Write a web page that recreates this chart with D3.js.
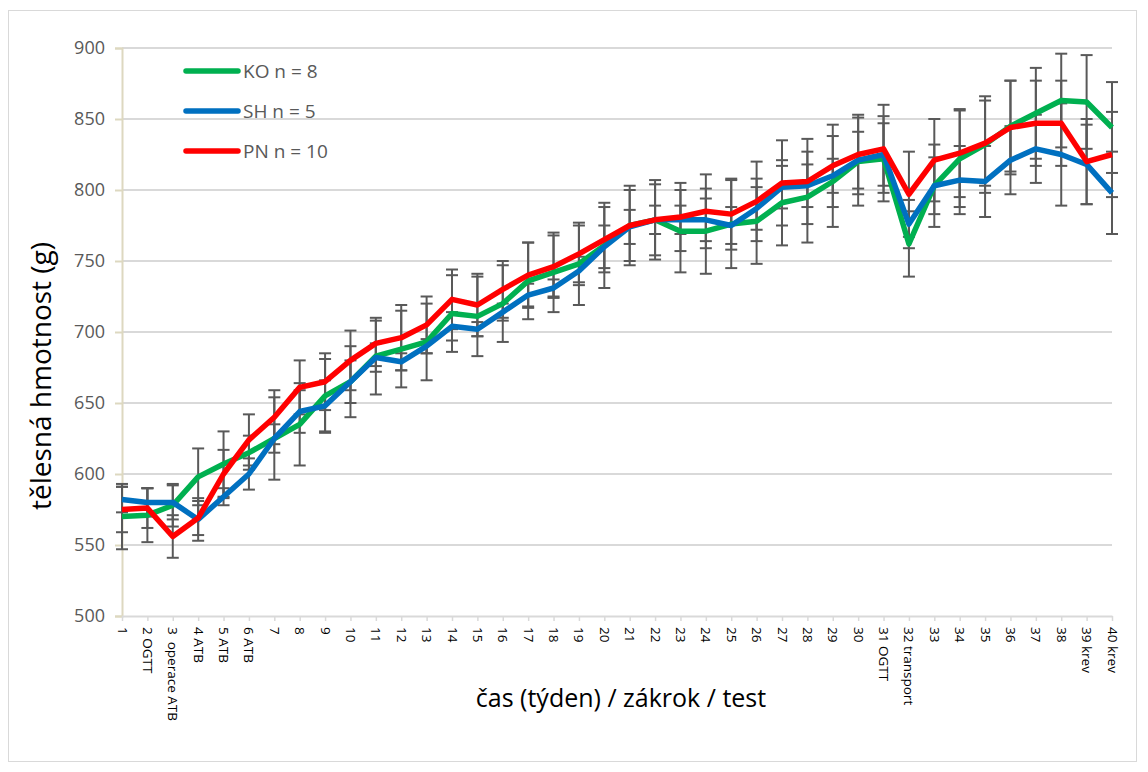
<!DOCTYPE html>
<html>
<head>
<meta charset="utf-8">
<script src="https://cdn.jsdelivr.net/npm/d3@7"></script>
<style>
  body { margin: 0; background: #fff; }
  text { font-family: "Open Sans", "Noto Sans", sans-serif; }
</style>
</head>
<body>
<script>
// categories (week / procedure / test)
var weeks = ["1", "2 OGTT", "3  operace ATB", "4 ATB", "5 ATB", "6 ATB", "7", "8", "9", "10",
  "11", "12", "13", "14", "15", "16", "17", "18", "19", "20",
  "21", "22", "23", "24", "25", "26", "27", "28", "29", "30",
  "31 OGTT", "32 transport", "33", "34", "35", "36", "37", "38", "39 krev", "40 krev"];

// means
var ko = [570, 571, 578, 598, 607, 615, 625, 635, 655, 665, 683, 688, 693, 713, 711, 720, 736, 742, 748, 761,
  775, 779, 771, 771, 776, 778, 791, 795, 806, 820, 822, 762, 803, 822, 832, 845, 854, 863, 862, 844];
var sh = [582, 580, 580, 568, 584, 600, 625, 644, 648, 665, 682, 679, 690, 704, 702, 714, 726, 731, 743, 760,
  774, 779, 779, 779, 775, 787, 802, 803, 810, 821, 825, 776, 803, 807, 806, 821, 829, 825, 818, 798];
var pn = [575, 576, 556, 569, 600, 624, 640, 661, 665, 680, 692, 696, 705, 723, 719, 730, 740, 746, 755, 765,
  775, 779, 781, 785, 783, 792, 805, 806, 817, 825, 829, 797, 821, 826, 833, 844, 847, 847, 820, 825];

// standard deviations (error bars)
var koSd = [23, 19, 15, 20, 23, 12, 29, 29, 26, 25, 27, 27, 27, 27, 28, 27, 27, 28, 29, 30,
  28, 28, 29, 30, 31, 30, 30, 32, 32, 31, 30, 23, 29, 34, 34, 32, 32, 33, 33, 32];
var shSd = [9, 10, 12, 15, 6, 11, 10, 15, 18, 15, 10, 6, 5, 10, 5, 6, 8, 6, 10, 15,
  12, 10, 10, 15, 13, 15, 15, 15, 12, 20, 22, 17, 20, 24, 25, 24, 24, 36, 28, 29];
var pnSd = [16, 14, 15, 12, 17, 18, 19, 19, 20, 21, 16, 23, 20, 21, 22, 20, 23, 22, 20, 23,
  25, 25, 24, 26, 25, 28, 30, 30, 29, 28, 31, 30, 29, 31, 30, 33, 30, 30, 30, 30];

var yTicks = [500, 550, 600, 650, 700, 750, 800, 850, 900];

var series = [
  { name: "KO n = 8", values: ko, sd: koSd, color: "#00b050" },
  { name: "SH n = 5", values: sh, sd: shSd, color: "#0070c0" },
  { name: "PN n = 10", values: pn, sd: pnSd, color: "#ff0000" }
];

var width = 1148,
    height = 772;

var svg = d3.select("body").append("svg")
    .attr("width", width)
    .attr("height", height);

// outer frame
svg.append("rect")
    .attr("x", 8.5).attr("y", 10.5)
    .attr("width", 1128).attr("height", 751)
    .attr("fill", "#fff").attr("stroke", "#d9d9d9");

var x = d3.scalePoint().domain(weeks).range([122, 1112]);
var y = d3.scaleLinear().domain([500, 900]).range([616, 48]);

// gridlines
svg.append("g").selectAll("line")
    .data(yTicks.filter(function(d) { return d > 500; }))
  .enter().append("line")
    .attr("x1", 122).attr("x2", 1112)
    .attr("y1", function(d) { return y(d); })
    .attr("y2", function(d) { return y(d); })
    .attr("stroke", "#d9d9d9").attr("stroke-width", 2);

// y axis
var yAxis = svg.append("g")
    .attr("transform", "translate(122,0)")
    .call(d3.axisLeft(y).tickValues(yTicks).tickSize(7).tickPadding(10));
yAxis.select(".domain").attr("stroke", "#ddd8c0").attr("stroke-width", 2);
yAxis.selectAll(".tick line").attr("stroke", "#ddd8c0").attr("stroke-width", 2);
yAxis.selectAll(".tick text")
    .attr("fill", "#595959")
    .style("font-size", "18px");

// x axis
var xAxis = svg.append("g")
    .attr("transform", "translate(0,616)")
    .call(d3.axisBottom(x).tickSize(5).tickSizeOuter(0));
xAxis.select(".domain").attr("stroke", "#d9d9d9").attr("stroke-width", 2);
xAxis.selectAll(".tick line").attr("stroke", "#d9d9d9").attr("stroke-width", 1.5);
xAxis.selectAll(".tick text")
    .attr("fill", "#000")
    .style("font-size", "13.5px")
    .attr("text-anchor", "start")
    .attr("dy", null)
    .attr("y", 0)
    .attr("transform", "translate(-5,11) rotate(90)")
    .attr("xml:space", "preserve");

// error bars
var bars = svg.append("g").attr("class", "errorbars");
series.forEach(function(s) {
  var g = bars.append("g");
  s.values.forEach(function(v, i) {
    var cx = x(weeks[i]),
        lo = y(v - s.sd[i]),
        hi = y(v + s.sd[i]);
    g.append("line").attr("x1", cx).attr("x2", cx).attr("y1", lo).attr("y2", hi)
        .attr("stroke", "#595959").attr("stroke-width", 2);
    [lo, hi].forEach(function(yy) {
      g.append("line").attr("x1", cx - 6).attr("x2", cx + 6).attr("y1", yy).attr("y2", yy)
          .attr("stroke", "#595959").attr("stroke-width", 2);
    });
  });
});

// lines
var line = d3.line()
    .x(function(d, i) { return x(weeks[i]); })
    .y(function(d) { return y(d); });

svg.append("g").selectAll("path")
    .data(series)
  .enter().append("path")
    .attr("d", function(d) { return line(d.values); })
    .attr("fill", "none")
    .attr("stroke", function(d) { return d.color; })
    .attr("stroke-width", 5.5)
    .attr("stroke-linejoin", "round");

// legend
var legend = svg.append("g").selectAll("g")
    .data(series)
  .enter().append("g")
    .attr("transform", function(d, i) { return "translate(0," + (71 + i * 40) + ")"; });
legend.append("line")
    .attr("x1", 186).attr("x2", 238)
    .attr("stroke", function(d) { return d.color; })
    .attr("stroke-width", 5.5)
    .attr("stroke-linecap", "round");
legend.append("text")
    .attr("x", 243).attr("dy", "0.35em")
    .attr("fill", "#595959")
    .style("font-size", "19px")
    .text(function(d) { return d.name; });

// axis titles
svg.append("text")
    .attr("transform", "translate(51,376) rotate(-90)")
    .attr("text-anchor", "middle")
    .style("font-size", "28px")
    .text("tělesná hmotnost (g)");

svg.append("text")
    .attr("x", 621).attr("y", 707)
    .attr("text-anchor", "middle")
    .style("font-size", "25px")
    .text("čas (týden) / zákrok / test");
</script>
</body>
</html>
